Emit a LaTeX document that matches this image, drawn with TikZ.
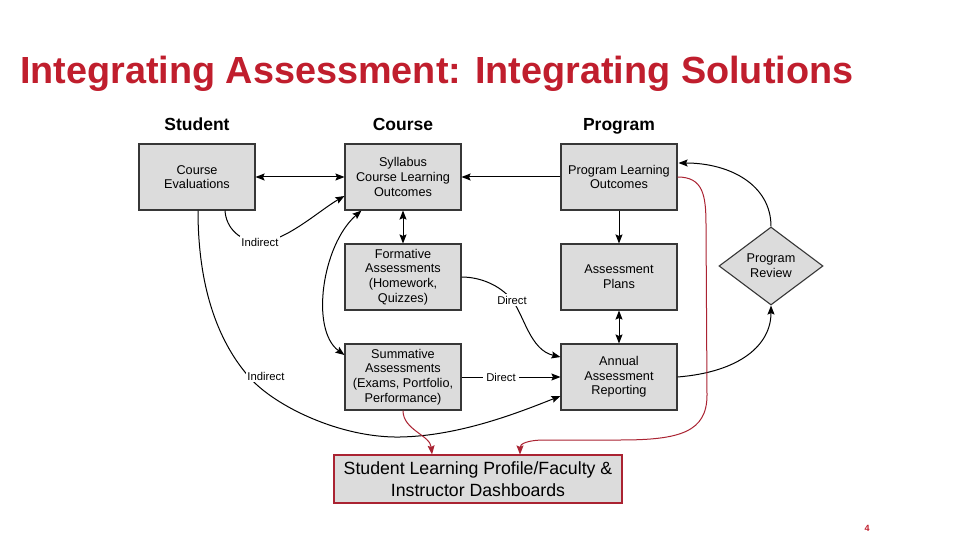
\documentclass[tikz,border=0pt]{standalone}
\usepackage{fontspec}
\setmainfont{Liberation Sans}
\usetikzlibrary{arrows.meta,shapes.geometric,calc}
\definecolor{titlered}{RGB}{192,30,45}
\definecolor{linkred}{RGB}{170,35,50}
\definecolor{boxfill}{RGB}{220,220,220}
\definecolor{boxline}{RGB}{55,55,55}
\tikzset{
  box/.style={draw=boxline,line width=1.1pt,fill=boxfill,minimum width=116pt,minimum height=66pt,inner sep=0pt,align=center,font=\fontsize{12.7}{14.7}\selectfont},
  hdr/.style={anchor=base,font=\fontsize{17.5}{20}\selectfont\bfseries},
  lbl/.style={fill=white,inner sep=1.5pt,font=\fontsize{11.3}{13}\selectfont},
  conn/.style={line width=1pt,black},
  tip/.style={-{Stealth[length=9pt,width=7pt,inset=1.5pt]}},
  dtip/.style={{Stealth[length=9pt,width=7pt,inset=1.5pt]}-{Stealth[length=9pt,width=7pt,inset=1.5pt]}},
  redconn/.style={line width=1pt,draw=linkred,-{Stealth[length=9pt,width=7pt,inset=1.5pt]}}
}
\begin{document}
\begin{tikzpicture}[x=1pt,y=-1pt]
\useasboundingbox (0,0) rectangle (960,540);
\fill[white] (0,0) rectangle (960,540);
% title
\node[anchor=base west,inner sep=0pt,text=titlered,font=\fontsize{37.8}{40}\selectfont\bfseries] (title) at (20,84) {Integrating Assessment: Integrating Solutions};
% headers
\node[hdr] (hs) at (197,131) {Student};
\node[hdr] (hc) at (403,131) {Course};
\node[hdr] (hp) at (619,131) {Program};
% boxes
\node[box] (ce) at (197,177) {Course\\Evaluations};
\node[box] (syl) at (403,177) {Syllabus\\Course Learning\\Outcomes};
\node[box] (plo) at (619,177) {Program Learning\\Outcomes};
\node[box] (form) at (403,277) {Formative\\Assessments\\(Homework,\\Quizzes)};
\node[box] (ap) at (619,277) {Assessment\\Plans};
\node[box] (sum) at (403,377) {Summative\\Assessments\\(Exams, Portfolio,\\Performance)};
\node[box] (ar) at (619,377) {Annual\\Assessment\\Reporting};
\node[draw=boxline,line width=1.1pt,fill=boxfill,diamond,aspect=1.33,minimum width=104pt,minimum height=78pt,inner sep=0pt,align=center,font=\fontsize{12.7}{14.7}\selectfont] (pr) at (771,266) {Program\\Review};
\node[draw=linkred,line width=1.1pt,fill=boxfill,minimum width=288pt,minimum height=48pt,inner sep=0pt,align=center,font=\fontsize{17.7}{22}\selectfont] (dash) at (478,479) {Student Learning Profile/Faculty \&\\Instructor Dashboards};
% straight connectors
\draw[conn,dtip] (ce.east) -- (syl.west);
\draw[conn,tip] (plo.west) -- (syl.east);
\draw[conn,tip] (plo.south) -- (ap.north);
\draw[conn,dtip] (syl.south) -- (form.north);
\draw[conn,dtip] (ap.south) -- (ar.north);
% indirect 1
\draw[conn,tip] ($(ce.south)+(28,0)$) .. controls (226,228) and (240,242) .. (260,242)
   .. controls (285,242) and (320,210) .. ($(syl.west)+(0,19)$);
\node[lbl] (ind1) at (260,242) {Indirect};
% syllabus <-> summative
\draw[conn,dtip] ($(syl.south west)+(17,0)$) .. controls (322,245) and (310,330) .. ($(sum.west)+(0,-22)$);
% indirect 2
\draw[conn,tip] ($(ce.south)+(1,0)$) .. controls (198,300) and (225,350) .. (250,378)
   .. controls (275,406) and (340,438) .. (400,437)
   .. controls (460,436) and (520,412) .. ($(ar.west)+(0,19)$);
\node[lbl] (ind2) at (266,376) {Indirect};
% direct 1
\draw[conn,tip] (form.east) .. controls (480,277) and (500,285) .. (512,300)
   .. controls (524,315) and (530,350) .. ($(ar.west)+(0,-20)$);
\node[lbl] (dir1) at (512,300) {Direct};
% direct 2
\draw[conn,tip] (sum.east) -- (ar.west);
\node[lbl,inner sep=3pt] (dir2) at (501,377) {Direct};
% annual -> program review
\draw[conn,tip] (ar.east) .. controls (740,372) and (771,345) .. (pr.south);
% program review -> PLO
\draw[conn,tip] (pr.north) .. controls (771,185) and (730,163) .. ($(plo.east)+(1,-14)$);
% red connectors
\draw[redconn] (plo.east) .. controls (703,177) and (706,195) .. (706,225) -- (707,395)
   .. controls (707,432) and (680,440) .. (620,440) -- (545,440)
   .. controls (527,440) and (520,444) .. ($(dash.north)+(42,0)$);
\draw[redconn] (sum.south) .. controls (403,430) and (430,435) .. ($(dash.north)+(-46,0)$);
% page number
\node[anchor=base,text=titlered,font=\fontsize{9}{10}\selectfont\bfseries] (pg) at (867,531) {4};
\end{tikzpicture}
\end{document}
